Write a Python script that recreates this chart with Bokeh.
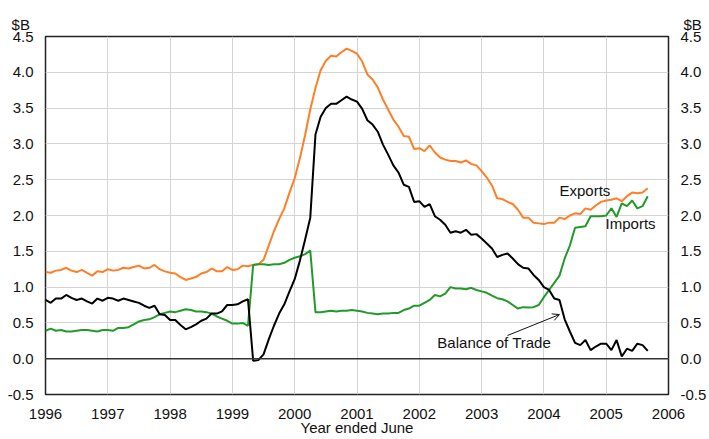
from bokeh.plotting import figure
from bokeh.models import (Label, Span, LinearAxis, FixedTicker, NumeralTickFormatter,
                          Range1d, Arrow, OpenHead)
from bokeh.embed import file_html
from bokeh.resources import INLINE

# monthly data, June 1996 .. February 2006 (x in "year ended June" units)
start_year = 1996
exports = [1.21, 1.20, 1.23, 1.24, 1.27, 1.23, 1.21, 1.24, 1.20, 1.16, 1.22, 1.21,
           1.25, 1.23, 1.24, 1.27, 1.26, 1.28, 1.30, 1.26, 1.27, 1.31, 1.25, 1.22,
           1.20, 1.19, 1.14, 1.10, 1.12, 1.14, 1.19, 1.21, 1.26, 1.22, 1.22, 1.28,
           1.24, 1.25, 1.30, 1.29, 1.31, 1.32, 1.38, 1.58, 1.78, 1.95, 2.10, 2.32,
           2.52, 2.80, 3.12, 3.48, 3.78, 4.03, 4.16, 4.23, 4.22, 4.28, 4.33, 4.30,
           4.26, 4.15, 3.97, 3.90, 3.79, 3.62, 3.48, 3.34, 3.24, 3.11, 3.10, 2.93,
           2.94, 2.90, 2.98, 2.88, 2.81, 2.78, 2.76, 2.76, 2.74, 2.77, 2.72, 2.70,
           2.62, 2.53, 2.42, 2.24, 2.23, 2.19, 2.16, 2.08, 1.97, 1.97, 1.90, 1.89,
           1.88, 1.90, 1.90, 1.97, 1.95, 2.00, 2.03, 2.02, 2.10, 2.08, 2.14, 2.19,
           2.21, 2.22, 2.24, 2.20, 2.27, 2.32, 2.31, 2.32, 2.38]
imports = [0.39, 0.42, 0.39, 0.40, 0.38, 0.38, 0.39, 0.40, 0.40, 0.39, 0.38, 0.40,
           0.40, 0.39, 0.43, 0.43, 0.44, 0.48, 0.52, 0.54, 0.55, 0.58, 0.62, 0.64,
           0.66, 0.65, 0.67, 0.69, 0.68, 0.66, 0.66, 0.65, 0.63, 0.59, 0.56, 0.53,
           0.49, 0.49, 0.50, 0.46, 1.31, 1.32, 1.32, 1.31, 1.32, 1.32, 1.34, 1.38,
           1.41, 1.43, 1.46, 1.51, 0.65, 0.65, 0.66, 0.67, 0.66, 0.67, 0.67, 0.68,
           0.67, 0.66, 0.64, 0.63, 0.62, 0.63, 0.63, 0.64, 0.64, 0.68, 0.70, 0.74,
           0.74, 0.78, 0.82, 0.89, 0.87, 0.91, 1.00, 0.98, 0.98, 0.97, 0.99, 0.96,
           0.94, 0.92, 0.88, 0.845, 0.83, 0.80, 0.75, 0.70, 0.72, 0.715, 0.72, 0.75,
           0.86, 0.96, 1.06, 1.16, 1.40, 1.58, 1.83, 1.84, 1.85, 1.99, 1.99, 1.99,
           2.00, 2.10, 1.98, 2.17, 2.13, 2.21, 2.10, 2.13, 2.27]
balance = [0.82, 0.78, 0.84, 0.84, 0.89, 0.85, 0.82, 0.84, 0.80, 0.77, 0.84, 0.81,
           0.85, 0.84, 0.81, 0.84, 0.82, 0.80, 0.78, 0.74, 0.71, 0.74, 0.62, 0.61,
           0.54, 0.54, 0.47, 0.41, 0.44, 0.48, 0.53, 0.56, 0.63, 0.63, 0.66, 0.75,
           0.75, 0.76, 0.80, 0.83, -0.03, -0.02, 0.06, 0.27, 0.46, 0.63, 0.76, 0.94,
           1.11, 1.37, 1.66, 1.97, 3.13, 3.38, 3.50, 3.56, 3.56, 3.61, 3.66, 3.62,
           3.59, 3.49, 3.33, 3.27, 3.17, 2.99, 2.85, 2.70, 2.60, 2.43, 2.40, 2.19,
           2.20, 2.12, 2.16, 1.99, 1.94, 1.87, 1.76, 1.78, 1.76, 1.80, 1.73, 1.74,
           1.68, 1.61, 1.54, 1.42, 1.45, 1.47, 1.40, 1.32, 1.27, 1.26, 1.17, 1.10,
           1.00, 0.96, 0.84, 0.82, 0.55, 0.38, 0.22, 0.19, 0.26, 0.12, 0.17, 0.21,
           0.21, 0.12, 0.26, 0.03, 0.14, 0.11, 0.21, 0.19, 0.11]
x_ticks = list(range(1996, 2007))
y_ticks = [-0.5, 0.0, 0.5, 1.0, 1.5, 2.0, 2.5, 3.0, 3.5, 4.0, 4.5]

xs = [start_year + i / 12 for i in range(len(exports))]

FONT = "Liberation Sans"
FS = "15px"

p = figure(width=709, height=439, output_backend="svg", toolbar_location=None,
           x_range=Range1d(1996, 2006), y_range=Range1d(-0.5, 4.5),
           min_border_left=45, min_border_right=40, min_border_top=36, min_border_bottom=45)
p.background_fill_color = "white"
p.border_fill_color = "white"
p.outline_line_color = "#222222"
p.outline_line_width = 1.5

p.xaxis.ticker = FixedTicker(ticks=x_ticks)
p.yaxis.ticker = FixedTicker(ticks=y_ticks)
p.yaxis.formatter = NumeralTickFormatter(format="0.0")

raxis = LinearAxis(ticker=FixedTicker(ticks=y_ticks),
                   formatter=NumeralTickFormatter(format="0.0"))
p.add_layout(raxis, "right")

for ax in [p.xaxis[0], p.yaxis[0], raxis]:
    ax.axis_line_color = None
    ax.major_tick_line_color = None
    ax.minor_tick_line_color = None
    ax.major_tick_out = 0
    ax.major_tick_in = 0
    ax.minor_tick_out = 0
    ax.minor_tick_in = 0
    ax.major_label_text_font = FONT
    ax.major_label_text_font_size = FS
    ax.major_label_text_color = "#111111"
p.xaxis.major_label_standoff = 14
p.yaxis[0].major_label_standoff = 12
raxis.major_label_standoff = 12

p.xaxis.axis_label = "Year ended June"
p.xaxis.axis_label_text_font = FONT
p.xaxis.axis_label_text_font_size = FS
p.xaxis.axis_label_text_font_style = "normal"
p.xaxis.axis_label_text_color = "#111111"
p.xaxis.axis_label_standoff = -3

p.xgrid.ticker = FixedTicker(ticks=x_ticks)
p.ygrid.ticker = FixedTicker(ticks=y_ticks)
p.grid.grid_line_color = "#d4d4d4"
p.grid.grid_line_width = 1

p.add_layout(Span(location=0, dimension="width", line_color="#333333", line_width=1.5))

p.line(xs, exports, line_color="#ff7f27", line_width=2)
p.line(xs, imports, line_color="#229a2a", line_width=2)
p.line(xs, balance, line_color="black", line_width=2)

def lab(x, y, t, place=None):
    l = Label(x=x, y=y, text=t, text_font=FONT, text_font_size=FS,
              text_align="left", text_baseline="middle", text_color="#111111")
    if place:
        p.add_layout(l, place)
    else:
        p.add_layout(l)

lab(2004.25, 2.35, "Exports")
lab(2004.99, 1.89, "Imports")
lab(2002.29, 0.22, "Balance of Trade")
# unit labels above the tick labels on both sides (placed in the top border panel)
lab(1995.455, 4.668, "$B", "above")
lab(2006.24, 4.668, "$B", "above")

p.add_layout(Arrow(end=OpenHead(size=7, line_width=1, line_color="#111111"),
                   x_start=2003.415, y_start=0.324, x_end=2004.25, y_end=0.617,
                   line_width=1, line_color="#111111"))

open("out.html", "w").write(file_html(p, INLINE))
